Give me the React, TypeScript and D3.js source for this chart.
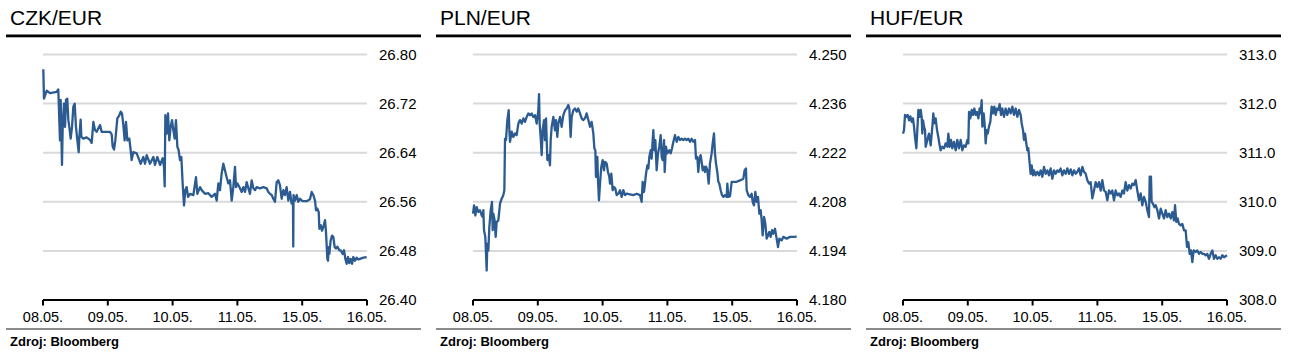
import React from 'react';
import * as d3 from 'd3';

type Pt = [number, number];

const dayLabels = ['08.05.', '09.05.', '10.05.', '11.05.', '15.05.', '16.05.'];
const dayIndex = [0, 1, 2, 3, 4, 5];

const czkTicks = [26.40, 26.48, 26.56, 26.64, 26.72, 26.80];
const plnTicks = [4.180, 4.194, 4.208, 4.222, 4.236, 4.250];
const hufTicks = [308.0, 309.0, 310.0, 311.0, 312.0, 313.0];

const czkPoints: Pt[] = [
  [0.005, 26.776], [0.015, 26.728], [0.057, 26.741], [0.108, 26.737], [0.211, 26.739], [0.236, 26.743],
  [0.262, 26.660], [0.273, 26.726], [0.293, 26.620], [0.304, 26.682], [0.324, 26.720], [0.340, 26.682],
  [0.355, 26.726], [0.375, 26.728], [0.391, 26.693], [0.406, 26.682], [0.427, 26.663], [0.448, 26.682],
  [0.468, 26.715], [0.489, 26.720], [0.509, 26.682], [0.530, 26.660], [0.551, 26.641], [0.561, 26.666],
  [0.581, 26.694], [0.592, 26.666], [0.622, 26.663], [0.674, 26.665], [0.725, 26.661], [0.751, 26.656],
  [0.777, 26.690], [0.802, 26.677], [0.828, 26.674], [0.880, 26.685], [0.905, 26.674], [0.931, 26.674],
  [0.983, 26.674], [1.034, 26.674], [1.060, 26.670], [1.075, 26.650], [1.096, 26.645], [1.116, 26.660],
  [1.147, 26.696], [1.178, 26.701], [1.199, 26.707], [1.219, 26.704], [1.240, 26.685], [1.260, 26.660],
  [1.281, 26.690], [1.302, 26.660], [1.332, 26.663], [1.353, 26.644], [1.368, 26.628], [1.394, 26.641],
  [1.446, 26.639], [1.486, 26.628], [1.507, 26.622], [1.548, 26.633], [1.574, 26.622], [1.600, 26.636],
  [1.651, 26.622], [1.703, 26.633], [1.728, 26.620], [1.764, 26.633], [1.806, 26.620], [1.847, 26.631],
  [1.867, 26.617], [1.878, 26.585], [1.888, 26.701], [1.909, 26.671], [1.929, 26.704], [1.949, 26.660],
  [1.970, 26.682], [1.991, 26.693], [2.011, 26.677], [2.032, 26.663], [2.052, 26.693], [2.073, 26.650],
  [2.093, 26.644], [2.114, 26.628], [2.135, 26.633], [2.155, 26.590], [2.176, 26.554], [2.196, 26.579],
  [2.217, 26.584], [2.238, 26.568], [2.269, 26.573], [2.320, 26.571], [2.361, 26.600], [2.382, 26.573],
  [2.423, 26.584], [2.449, 26.579], [2.500, 26.573], [2.552, 26.574], [2.603, 26.568], [2.654, 26.573],
  [2.680, 26.562], [2.706, 26.590], [2.731, 26.579], [2.757, 26.606], [2.783, 26.622], [2.809, 26.611],
  [2.834, 26.600], [2.860, 26.590], [2.886, 26.595], [2.912, 26.562], [2.937, 26.584], [2.963, 26.617],
  [2.978, 26.584], [2.999, 26.590], [3.040, 26.582], [3.066, 26.576], [3.092, 26.584], [3.117, 26.576],
  [3.143, 26.592], [3.169, 26.582], [3.194, 26.573], [3.220, 26.595], [3.246, 26.582], [3.272, 26.579],
  [3.297, 26.584], [3.349, 26.582], [3.400, 26.584], [3.451, 26.582], [3.477, 26.576], [3.503, 26.573],
  [3.529, 26.571], [3.554, 26.565], [3.580, 26.560], [3.606, 26.592], [3.631, 26.595], [3.657, 26.587],
  [3.683, 26.565], [3.709, 26.579], [3.734, 26.571], [3.760, 26.584], [3.786, 26.562], [3.812, 26.576],
  [3.837, 26.557], [3.858, 26.557], [3.862, 26.487], [3.866, 26.571], [3.889, 26.562], [3.915, 26.571],
  [3.940, 26.560], [3.966, 26.565], [3.992, 26.562], [4.017, 26.561], [4.069, 26.561], [4.120, 26.564],
  [4.146, 26.576], [4.172, 26.571], [4.198, 26.562], [4.213, 26.546], [4.234, 26.549], [4.255, 26.543],
  [4.265, 26.516], [4.285, 26.522], [4.306, 26.513], [4.326, 26.519], [4.352, 26.530], [4.367, 26.511],
  [4.388, 26.467], [4.398, 26.464], [4.408, 26.486], [4.419, 26.475], [4.439, 26.497], [4.460, 26.505],
  [4.480, 26.503], [4.501, 26.486], [4.521, 26.484], [4.542, 26.487], [4.573, 26.481], [4.594, 26.481],
  [4.625, 26.475], [4.645, 26.481], [4.666, 26.467], [4.686, 26.459], [4.707, 26.470], [4.727, 26.460],
  [4.748, 26.467], [4.769, 26.459], [4.789, 26.470], [4.815, 26.464], [4.840, 26.469], [4.866, 26.466],
  [4.892, 26.467], [4.943, 26.469], [4.995, 26.470],
];

const plnPoints: Pt[] = [
  [0.000, 4.2046], [0.016, 4.2070], [0.036, 4.2041], [0.057, 4.2065], [0.082, 4.2051], [0.108, 4.2056],
  [0.134, 4.2041], [0.149, 4.2037], [0.160, 4.2056], [0.170, 4.1999], [0.190, 4.1980], [0.201, 4.1932],
  [0.211, 4.1884], [0.221, 4.1960], [0.237, 4.1941], [0.252, 4.2008], [0.273, 4.2056], [0.293, 4.2080],
  [0.304, 4.1999], [0.314, 4.2046], [0.334, 4.2027], [0.350, 4.1980], [0.365, 4.2022], [0.391, 4.2027],
  [0.417, 4.2075], [0.442, 4.2089], [0.468, 4.2099], [0.484, 4.2113], [0.494, 4.2260], [0.509, 4.2256],
  [0.530, 4.2313], [0.551, 4.2341], [0.561, 4.2284], [0.571, 4.2251], [0.597, 4.2280], [0.622, 4.2265],
  [0.648, 4.2275], [0.674, 4.2270], [0.700, 4.2303], [0.725, 4.2313], [0.751, 4.2303], [0.777, 4.2318],
  [0.802, 4.2308], [0.828, 4.2322], [0.854, 4.2332], [0.880, 4.2327], [0.905, 4.2332], [0.931, 4.2322],
  [0.957, 4.2327], [0.983, 4.2303], [1.008, 4.2341], [1.019, 4.2387], [1.029, 4.2303], [1.044, 4.2265],
  [1.060, 4.2213], [1.075, 4.2284], [1.096, 4.2313], [1.111, 4.2256], [1.127, 4.2318], [1.147, 4.2199],
  [1.168, 4.2213], [1.188, 4.2184], [1.199, 4.2256], [1.214, 4.2294], [1.240, 4.2322], [1.265, 4.2284],
  [1.281, 4.2313], [1.301, 4.2265], [1.317, 4.2303], [1.343, 4.2322], [1.368, 4.2294], [1.394, 4.2327],
  [1.420, 4.2341], [1.446, 4.2346], [1.471, 4.2356], [1.487, 4.2346], [1.507, 4.2265], [1.523, 4.2322],
  [1.548, 4.2341], [1.574, 4.2346], [1.600, 4.2337], [1.625, 4.2346], [1.651, 4.2332], [1.677, 4.2318],
  [1.703, 4.2313], [1.728, 4.2318], [1.754, 4.2332], [1.780, 4.2313], [1.806, 4.2294], [1.831, 4.2308],
  [1.857, 4.2275], [1.873, 4.2232], [1.888, 4.2227], [1.898, 4.2151], [1.919, 4.2208], [1.929, 4.2141],
  [1.944, 4.2084], [1.960, 4.2132], [1.980, 4.2180], [2.001, 4.2199], [2.022, 4.2170], [2.037, 4.2194],
  [2.063, 4.2189], [2.083, 4.2165], [2.104, 4.2151], [2.114, 4.2132], [2.135, 4.2160], [2.155, 4.2113],
  [2.176, 4.2122], [2.196, 4.2118], [2.217, 4.2099], [2.243, 4.2103], [2.269, 4.2113], [2.294, 4.2094],
  [2.320, 4.2113], [2.346, 4.2099], [2.371, 4.2103], [2.423, 4.2101], [2.474, 4.2099], [2.526, 4.2103],
  [2.577, 4.2099], [2.603, 4.2080], [2.618, 4.2137], [2.639, 4.2108], [2.654, 4.2132], [2.670, 4.2160],
  [2.690, 4.2184], [2.706, 4.2175], [2.721, 4.2208], [2.742, 4.2227], [2.757, 4.2203], [2.773, 4.2256],
  [2.783, 4.2284], [2.798, 4.2227], [2.814, 4.2256], [2.834, 4.2170], [2.855, 4.2218], [2.875, 4.2237],
  [2.896, 4.2270], [2.912, 4.2208], [2.927, 4.2199], [2.948, 4.2256], [2.958, 4.2165], [2.978, 4.2237],
  [2.999, 4.2218], [3.030, 4.2227], [3.050, 4.2218], [3.071, 4.2232], [3.092, 4.2251], [3.117, 4.2270],
  [3.143, 4.2251], [3.169, 4.2265], [3.194, 4.2256], [3.220, 4.2260], [3.246, 4.2256], [3.272, 4.2260],
  [3.297, 4.2256], [3.323, 4.2260], [3.349, 4.2251], [3.374, 4.2260], [3.400, 4.2251], [3.426, 4.2256],
  [3.441, 4.2203], [3.462, 4.2208], [3.477, 4.2165], [3.493, 4.2199], [3.513, 4.2213], [3.529, 4.2194],
  [3.544, 4.2170], [3.565, 4.2180], [3.580, 4.2165], [3.596, 4.2180], [3.616, 4.2170], [3.637, 4.2132],
  [3.657, 4.2189], [3.683, 4.2218], [3.698, 4.2246], [3.719, 4.2275], [3.734, 4.2218], [3.750, 4.2189],
  [3.770, 4.2165], [3.786, 4.2137], [3.801, 4.2132], [3.822, 4.2113], [3.843, 4.2099], [3.863, 4.2094],
  [3.889, 4.2099], [3.915, 4.2094], [3.925, 4.2132], [3.940, 4.2094], [3.966, 4.2096], [3.992, 4.2137],
  [4.017, 4.2137], [4.069, 4.2137], [4.120, 4.2141], [4.172, 4.2146], [4.192, 4.2170], [4.213, 4.2175],
  [4.223, 4.2113], [4.249, 4.2099], [4.275, 4.2094], [4.300, 4.2103], [4.316, 4.2080], [4.336, 4.2070],
  [4.357, 4.2108], [4.378, 4.2080], [4.398, 4.2094], [4.419, 4.2046], [4.439, 4.2056], [4.455, 4.2027],
  [4.470, 4.1984], [4.491, 4.2037], [4.511, 4.2018], [4.532, 4.1975], [4.552, 4.1984], [4.573, 4.1994],
  [4.594, 4.1980], [4.614, 4.1999], [4.635, 4.1989], [4.660, 4.2003], [4.686, 4.1975], [4.707, 4.1951],
  [4.727, 4.1975], [4.763, 4.1970], [4.789, 4.1980], [4.840, 4.1975], [4.892, 4.1980], [4.943, 4.1980],
  [4.995, 4.1981],
];

const hufPoints: Pt[] = [
  [0.000, 311.39], [0.016, 311.46], [0.031, 311.77], [0.051, 311.73], [0.072, 311.77], [0.093, 311.66],
  [0.113, 311.74], [0.134, 311.63], [0.154, 311.70], [0.170, 311.53], [0.185, 311.32], [0.206, 311.09],
  [0.221, 311.46], [0.237, 311.87], [0.257, 311.73], [0.273, 311.87], [0.288, 311.73], [0.298, 311.39],
  [0.309, 311.66], [0.324, 311.53], [0.340, 311.46], [0.350, 311.12], [0.376, 311.26], [0.401, 311.39],
  [0.427, 311.15], [0.453, 311.53], [0.468, 311.80], [0.484, 311.60], [0.504, 311.70], [0.525, 311.46],
  [0.545, 311.32], [0.566, 311.15], [0.581, 311.05], [0.607, 311.12], [0.633, 311.09], [0.658, 311.19],
  [0.684, 311.12], [0.700, 311.39], [0.720, 311.12], [0.741, 311.26], [0.761, 311.09], [0.787, 311.22],
  [0.813, 311.05], [0.838, 311.26], [0.864, 311.09], [0.890, 311.26], [0.916, 311.05], [0.941, 311.15],
  [0.967, 311.12], [0.993, 311.26], [1.008, 311.19], [1.019, 311.83], [1.039, 311.70], [1.060, 311.87],
  [1.080, 311.77], [1.101, 311.90], [1.121, 311.77], [1.142, 311.83], [1.163, 311.70], [1.183, 311.90],
  [1.198, 311.80], [1.214, 312.07], [1.224, 311.53], [1.245, 311.80], [1.265, 311.49], [1.276, 311.19],
  [1.291, 311.46], [1.307, 311.39], [1.327, 311.53], [1.348, 311.63], [1.368, 311.94], [1.389, 311.80],
  [1.409, 311.94], [1.430, 311.77], [1.451, 311.90], [1.471, 311.87], [1.492, 311.99], [1.512, 311.77],
  [1.533, 311.90], [1.559, 311.73], [1.584, 311.90], [1.610, 311.77], [1.636, 311.90], [1.662, 311.80],
  [1.687, 311.94], [1.713, 311.77], [1.739, 311.90], [1.765, 311.73], [1.790, 311.87], [1.816, 311.77],
  [1.831, 311.60], [1.852, 311.46], [1.867, 311.26], [1.883, 311.39], [1.903, 311.19], [1.919, 311.05],
  [1.934, 311.09], [1.955, 310.78], [1.970, 310.57], [1.986, 310.74], [2.006, 310.54], [2.022, 310.64],
  [2.047, 310.54], [2.073, 310.61], [2.099, 310.54], [2.125, 310.64], [2.150, 310.51], [2.176, 310.71],
  [2.202, 310.57], [2.228, 310.64], [2.253, 310.54], [2.279, 310.68], [2.305, 310.47], [2.330, 310.64],
  [2.356, 310.57], [2.382, 310.64], [2.407, 310.61], [2.433, 310.68], [2.459, 310.54], [2.485, 310.64],
  [2.510, 310.57], [2.536, 310.68], [2.562, 310.57], [2.588, 310.66], [2.613, 310.54], [2.639, 310.64],
  [2.665, 310.57], [2.691, 310.61], [2.716, 310.68], [2.742, 310.54], [2.768, 310.71], [2.793, 310.61],
  [2.819, 310.57], [2.845, 310.44], [2.870, 310.37], [2.896, 310.40], [2.922, 310.07], [2.948, 310.23],
  [2.973, 310.40], [2.999, 310.30], [3.025, 310.40], [3.051, 310.23], [3.076, 310.44], [3.102, 310.23],
  [3.128, 310.20], [3.153, 310.03], [3.179, 310.23], [3.205, 310.17], [3.230, 310.23], [3.256, 310.03],
  [3.282, 310.23], [3.308, 310.13], [3.333, 310.17], [3.359, 310.10], [3.385, 310.23], [3.410, 310.17],
  [3.436, 310.40], [3.462, 310.23], [3.488, 310.34], [3.513, 310.27], [3.539, 310.37], [3.565, 310.34],
  [3.591, 310.44], [3.616, 310.23], [3.642, 310.03], [3.668, 310.17], [3.693, 309.93], [3.719, 310.10],
  [3.745, 310.00], [3.770, 309.83], [3.796, 309.69], [3.807, 310.51], [3.827, 310.51], [3.837, 310.00],
  [3.858, 309.96], [3.879, 309.89], [3.899, 309.93], [3.925, 309.83], [3.951, 309.66], [3.977, 309.86],
  [4.002, 309.76], [4.028, 309.66], [4.053, 309.83], [4.079, 309.69], [4.105, 309.76], [4.131, 309.66],
  [4.156, 309.79], [4.182, 309.62], [4.198, 309.93], [4.218, 309.59], [4.239, 309.66], [4.259, 309.55],
  [4.285, 309.52], [4.311, 309.55], [4.336, 309.42], [4.362, 309.42], [4.383, 309.08], [4.403, 309.18],
  [4.424, 308.94], [4.444, 309.01], [4.465, 308.77], [4.486, 309.01], [4.516, 308.98], [4.542, 309.01],
  [4.568, 308.94], [4.594, 308.98], [4.619, 308.94], [4.645, 308.94], [4.671, 308.91], [4.696, 308.94],
  [4.722, 308.84], [4.748, 308.94], [4.774, 309.01], [4.799, 308.84], [4.825, 308.91], [4.851, 308.84],
  [4.877, 308.87], [4.902, 308.84], [4.928, 308.91], [4.954, 308.87], [5.000, 308.91],
];

const FONT = "'Liberation Sans', Arial, Helvetica, sans-serif";
const LINE_COLOR = '#2b5b91';

interface PanelProps {
  ox: number;
  title: string;
  points: Pt[];
  ticks: number[];
  fmt: (v: number) => string;
}

function Panel({ ox, title, points, ticks, fmt }: PanelProps) {
  const x0 = ox + 43;
  const x1 = ox + 367;
  const x = d3.scaleLinear().domain([0, 5]).range([x0, x1]);
  const y = d3.scaleLinear().domain([ticks[0], ticks[ticks.length - 1]]).range([300, 54.5]);
  const line = d3.line<Pt>().x((d) => x(d[0])).y((d) => y(d[1]));
  return (
    <g>
      <text x={ox + 10} y={25} fontSize={21} fontFamily={FONT} fill="#000">{title}</text>
      <rect x={ox + 6} y={34.5} width={415} height={2.8} fill="#000" />
      {ticks.slice(1).map((t) => (
        <line key={t} x1={x0} x2={x1} y1={y(t)} y2={y(t)} stroke="#d9d9d9" strokeWidth={2} />
      ))}
      {ticks.map((t) => (
        <text key={'l' + t} x={ox + 379} y={y(t)} dy="0.36em" fontSize={15} fontFamily={FONT} fill="#000">
          {fmt(t)}
        </text>
      ))}
      <path d={line(points) || ''} fill="none" stroke={LINE_COLOR} strokeWidth={2.3} strokeLinejoin="round" />
      <line x1={x0} x2={x1} y1={300} y2={300} stroke="#000" strokeWidth={2} />
      {dayIndex.map((d, i) => (
        <g key={'t' + d}>
          <line x1={x(d)} x2={x(d)} y1={300} y2={305.5} stroke="#000" strokeWidth={2} />
          <text x={x(d)} y={322} textAnchor="middle" fontSize={14.5} fontFamily={FONT} fill="#000">
            {dayLabels[i]}
          </text>
        </g>
      ))}
      <rect x={ox + 6} y={328} width={415} height={2} fill="#8a8a8a" />
      <text x={ox + 10} y={346} fontSize={13} fontWeight="bold" fontFamily={FONT} fill="#000">
        Zdroj: Bloomberg
      </text>
    </g>
  );
}

export default function App() {
  return (
    <svg
      width={1295}
      height={357}
      style={{ position: 'absolute', left: 0, top: 0, background: '#fff' }}
    >
      <rect width={1295} height={357} fill="#fff" />
      <Panel ox={0} title="CZK/EUR" points={czkPoints} ticks={czkTicks} fmt={(v) => v.toFixed(2)} />
      <Panel ox={430} title="PLN/EUR" points={plnPoints} ticks={plnTicks} fmt={(v) => v.toFixed(3)} />
      <Panel ox={860} title="HUF/EUR" points={hufPoints} ticks={hufTicks} fmt={(v) => v.toFixed(1)} />
    </svg>
  );
}
